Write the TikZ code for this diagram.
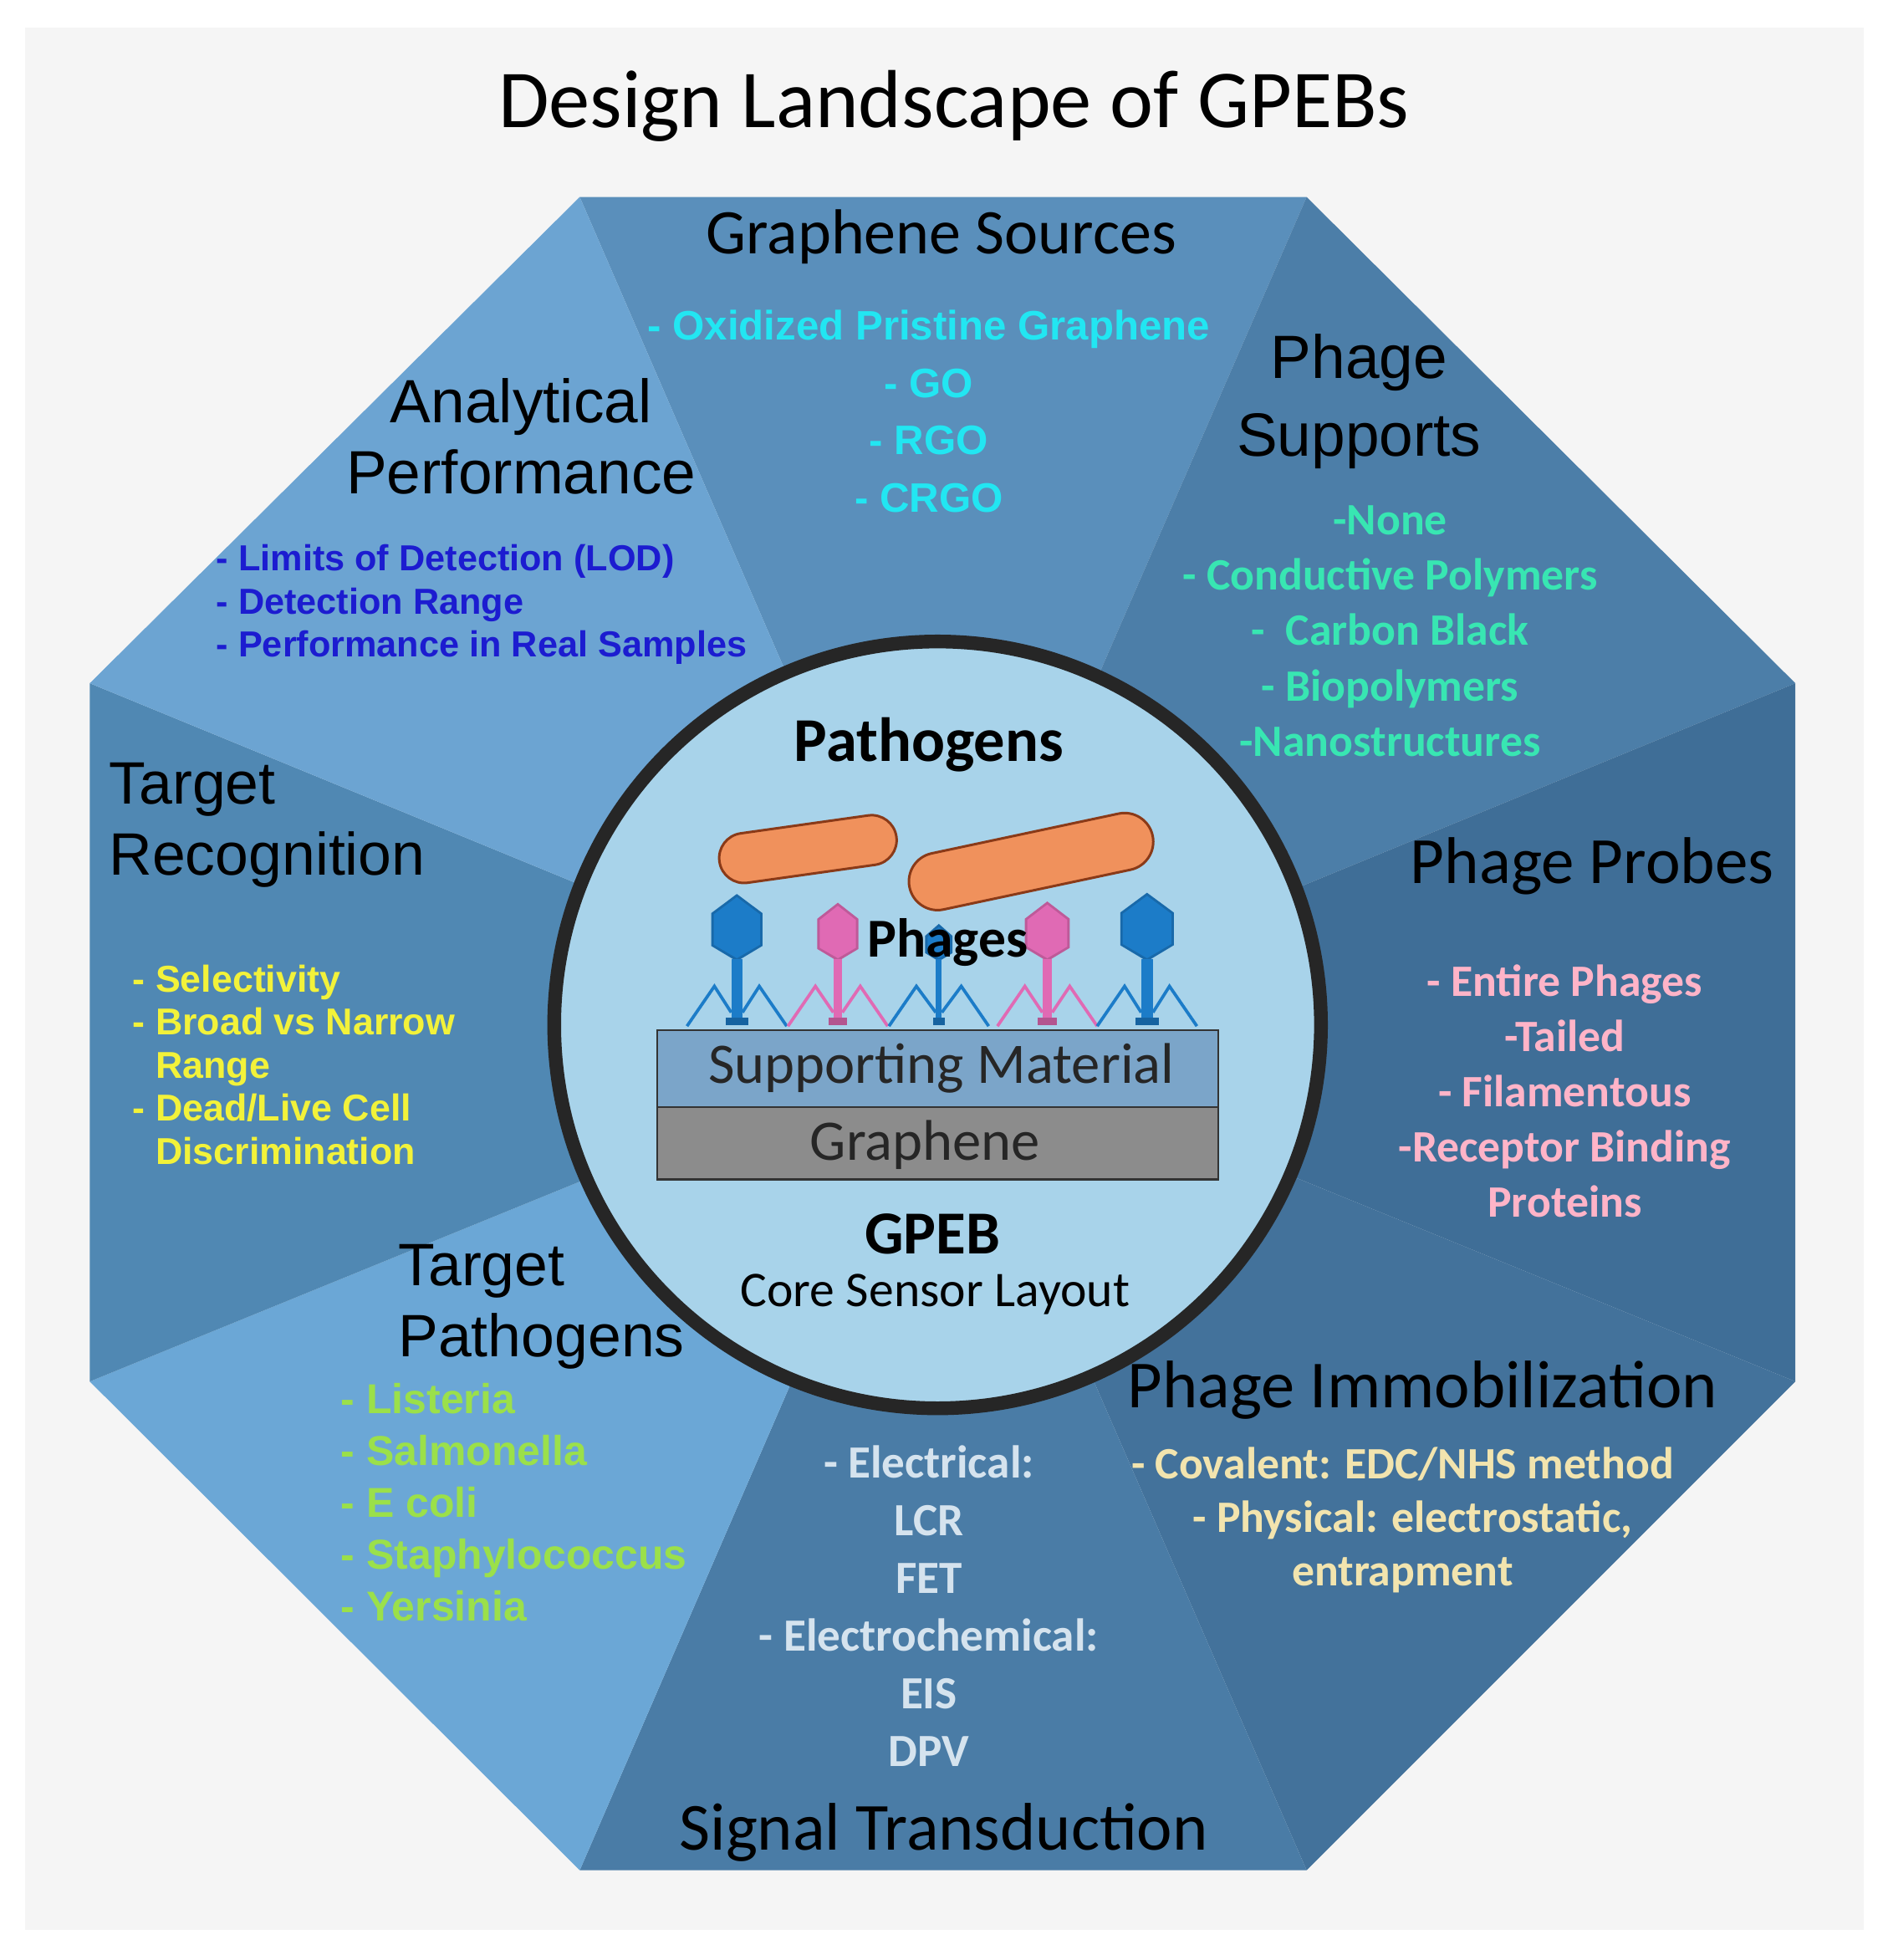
\documentclass[tikz,border=0pt]{standalone}
\usepackage{fontspec}
\setmainfont{Carlito}
\newfontfamily\arial{Liberation Sans}
\usetikzlibrary{shapes.geometric,shapes.misc}
\definecolor{wTop}{HTML}{5A8FBB}
\definecolor{wUR}{HTML}{4C7EA8}
\definecolor{wR}{HTML}{3F6E97}
\definecolor{wLR}{HTML}{43729B}
\definecolor{wB}{HTML}{4A7CA6}
\definecolor{wLL}{HTML}{6BA7D6}
\definecolor{wL}{HTML}{5088B3}
\definecolor{wUL}{HTML}{6CA4D2}
\definecolor{circ}{HTML}{A8D3EA}
\definecolor{phB}{HTML}{1C7CC8}
\definecolor{phP}{HTML}{E06AB4}
\definecolor{bact}{HTML}{F0915C}
\definecolor{bactE}{HTML}{8A3A18}
\definecolor{cyanT}{HTML}{22E6F2}
\definecolor{greenT}{HTML}{38E6B2}
\definecolor{navyT}{HTML}{1C1CD0}
\definecolor{yellowT}{HTML}{F2F23A}
\definecolor{limeT}{HTML}{9BE04A}
\definecolor{paleT}{HTML}{D5E3EE}
\definecolor{creamT}{HTML}{F2E4AE}
\definecolor{pinkT}{HTML}{FFB4C8}
\tikzset{
 head/.style={font=\fontsize{48}{57}\selectfont\arial, text=black, align=center},
 headc/.style={font=\fontsize{54}{60}\selectfont, text=black, align=center},
 lst/.style={align=left, anchor=west},
 bac/.style={rounded rectangle, draw=bactE, line width=2pt, fill=bact},
}
\newcommand\myphage[5]{% x, headtop, width, color, name
 \pgfmathsetmacro\hw{#3/2}
 \pgfmathsetmacro\tw{#3*0.11}
 \fill[#4!85!black] (#1-\hw,#2+0.3*#3) -- (#1,#2-3) -- (#1+\hw,#2+0.3*#3) -- (#1+\hw,771-0.3*#3) -- (#1,771) -- (#1-\hw,771-0.3*#3) -- cycle;
 \fill[#4] (#1-\hw+2,#2+0.3*#3+1) -- (#1,#2-0.5) -- (#1+\hw-2,#2+0.3*#3+1) -- (#1+\hw-2,771-0.3*#3-1) -- (#1,768.5) -- (#1-\hw+2,771-0.3*#3-1) -- cycle;
 \fill[#4] (#1-\tw,769) rectangle (#1+\tw,818);
 \fill[#4!80!black] (#1-2*\tw,816) rectangle (#1+2*\tw,822);
 \draw[#4, line width=2.5pt, line join=miter] (#1-\tw,812) -- (#1-18,791) -- (#1-40,823);
 \draw[#4, line width=2.5pt, line join=miter] (#1+\tw,812) -- (#1+18,791) -- (#1+40,823);
 \coordinate (#5) at (#1,#2);
}
\begin{document}
\begin{tikzpicture}[x=1pt,y=-1pt]
\useasboundingbox (0,0) rectangle (1510,1572);
\fill[white] (0,0) rectangle (1510,1572);
\fill[black!4] (20,22) rectangle (1495,1548);
\coordinate (C) at (756,829);
\coordinate (v1) at (465,158); \coordinate (v2) at (1048,158);
\coordinate (v3) at (1440,548); \coordinate (v4) at (1440,1108);
\coordinate (v5) at (1048,1500); \coordinate (v6) at (465,1500);
\coordinate (v7) at (72,1108); \coordinate (v8) at (72,548);
\fill[wTop] (C) -- (v1) -- (v2) -- cycle;
\fill[wUR] (C) -- (v2) -- (v3) -- cycle;
\fill[wR] (C) -- (v3) -- (v4) -- cycle;
\fill[wLR] (C) -- (v4) -- (v5) -- cycle;
\fill[wB] (C) -- (v5) -- (v6) -- cycle;
\fill[wLL] (C) -- (v6) -- (v7) -- cycle;
\fill[wL] (C) -- (v7) -- (v8) -- cycle;
\fill[wUL] (C) -- (v8) -- (v1) -- cycle;
\node[font=\fontsize{66}{72}\selectfont] (title) at (765,85) {Design Landscape of GPEBs};
% circle
\node[circle, draw=black!85, line width=11pt, fill=circ, minimum size=615pt] (core) at (752,822) {};
\node[font=\fontsize{50}{54}\selectfont\bfseries] (path) at (745,597) {Pathogens};
\node[bac, minimum width=150pt, minimum height=40pt, rotate=8] (b1) at (648,681) {};
\node[bac, minimum width=206pt, minimum height=46pt, rotate=12] (b2) at (827,691) {};
\myphage{591}{720}{41}{phB}{p1}
\myphage{672}{727}{33}{phP}{p2}
\myphage{753}{744}{22}{phB}{p3}
\myphage{840}{726}{36}{phP}{p4}
\myphage{920}{719}{43}{phB}{p5}
\node[font=\fontsize{44}{48}\selectfont\bfseries] (phg) at (760,756) {Phages};
\draw[black!80, line width=1.5pt, fill=wTop!80!white] (527,826) rectangle (977,888);
\draw[black!80, line width=1.5pt, fill=black!45] (527,888) rectangle (977,946);
\node[font=\fontsize{46}{50}\selectfont, text=black!85] (sup) at (755,857) {Supporting Material};
\node[font=\fontsize{46}{50}\selectfont, text=black!85] (gra) at (742,918) {Graphene};
\node[font=\fontsize{49}{54}\selectfont\bfseries] (gpeb) at (748,990) {GPEB};
\node[font=\fontsize{40}{44}\selectfont] (csl) at (750,1038) {Core Sensor Layout};
% sectors
\node[headc, font=\fontsize{51}{56}\selectfont] (gs) at (755,190) {Graphene Sources};
\node[font=\fontsize{33}{46}\selectfont\arial\bfseries, text=cyanT, align=center] (gsl) at (745,330) {- Oxidized Pristine Graphene\\- GO\\- RGO\\- CRGO};
\node[head, font=\fontsize{49}{57}\selectfont\arial] (ap) at (418,350) {Analytical\\Performance};
\node[lst, font=\fontsize{29}{34.5}\selectfont\arial\bfseries, text=navyT] (apl) at (170,485) {- Limits of Detection (LOD)\\- Detection Range\\- Performance in Real Samples};
\node[head, font=\fontsize{49}{62}\selectfont\arial] (ps) at (1090,322) {Phage\\Supports};
\node[font=\fontsize{36}{44.5}\selectfont\bfseries, text=greenT, align=center] (psl) at (1115,506) {-None\\- Conductive Polymers\\-\ \ Carbon Black\\- Biopolymers\\-Nanostructures};
\node[headc, font=\fontsize{53}{58}\selectfont] (pp) at (1277,695) {Phage Probes};
\node[font=\fontsize{36}{44.3}\selectfont\bfseries, text=pinkT, align=center] (ppl) at (1255,875) {- Entire Phages\\-Tailed\\- Filamentous\\-Receptor Binding\\Proteins};
\node[head, anchor=west, align=left] (tr) at (84,662) {Target\\Recognition};
\node[lst, font=\fontsize{30}{34.5}\selectfont\arial\bfseries, text=yellowT] (trl) at (103,854) {- Selectivity\\- Broad vs Narrow\\\hphantom{- }Range\\- Dead/Live Cell\\\hphantom{- }Discrimination};
\node[head, anchor=west, align=left] (tp) at (316,1048) {Target\\Pathogens};
\node[lst, font=\fontsize{33.5}{41.5}\selectfont\arial\bfseries, text=limeT] (tpl) at (270,1205) {- Listeria\\- Salmonella\\- E coli\\- Staphylococcus\\- Yersinia};
\node[headc] (im) at (1141,1115) {Phage Immobilization};
\node[font=\fontsize{36}{43}\selectfont\bfseries, text=creamT, align=center] (iml) at (1125,1219) {- Covalent: EDC/NHS method\\\ \ - Physical: electrostatic,\\entrapment};
\node[font=\fontsize{37}{46.2}\selectfont\bfseries, text=paleT, align=center] (stl) at (745,1288) {- Electrical:\\LCR\\FET\\- Electrochemical:\\EIS\\DPV};
\node[headc] (st) at (757,1470) {Signal Transduction};
\end{tikzpicture}
\end{document}
